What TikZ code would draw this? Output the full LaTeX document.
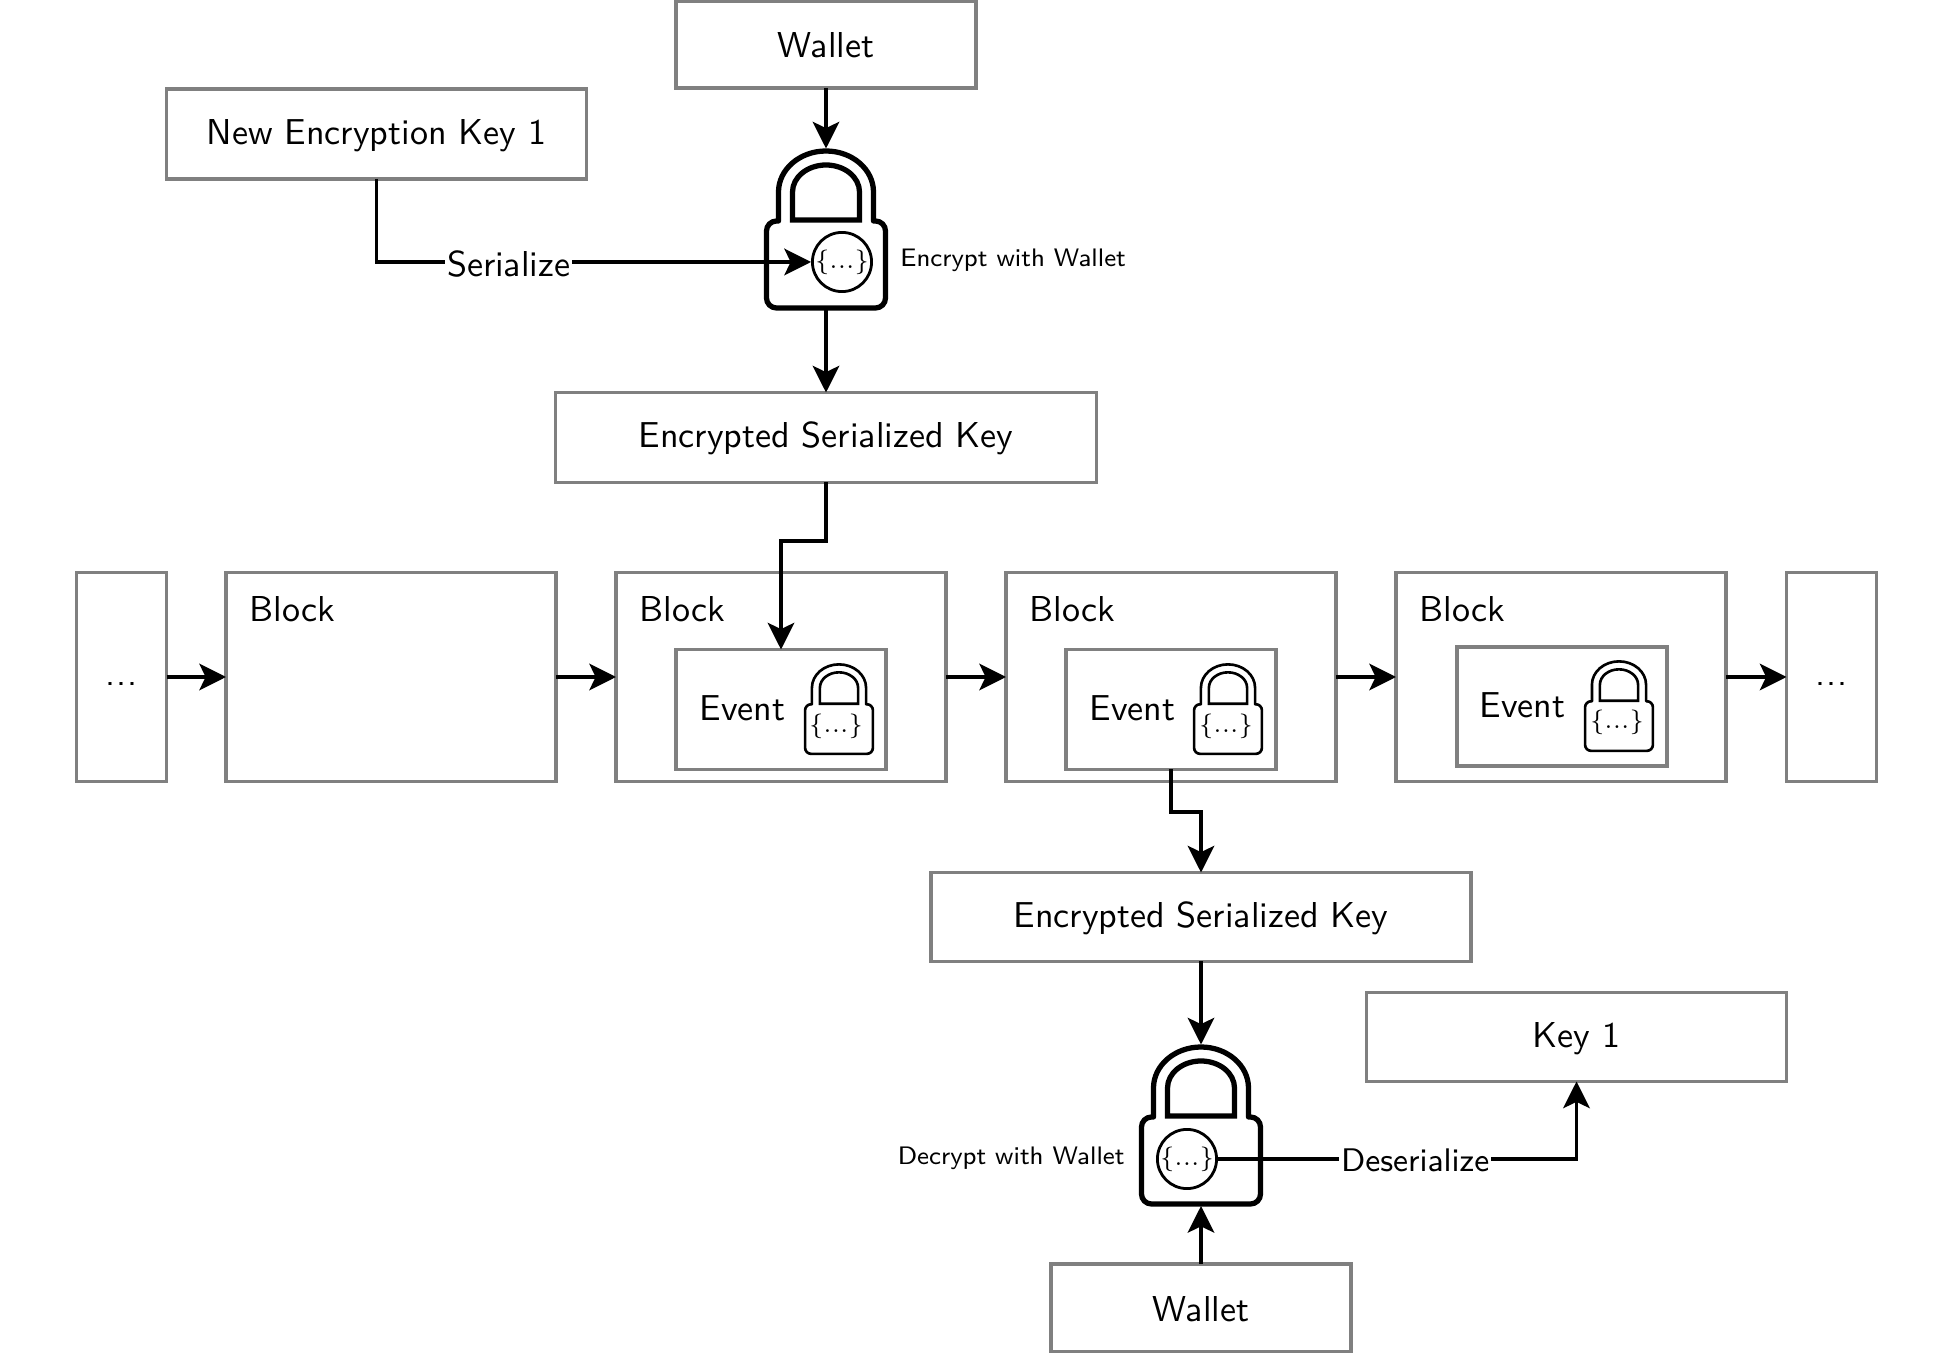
\documentclass[tikz,border=0pt]{standalone}
\usepackage{amsmath}
\usetikzlibrary{arrows.meta}
\renewcommand{\familydefault}{\sfdefault}
\tikzset{
  every node/.style={font=\fontsize{10.25}{12}\selectfont},
  smalltext/.style={font=\fontsize{7.2}{9}\selectfont},
  graybox/.style={draw=gray,line width=.9pt,fill=white,inner sep=0pt,outer sep=0pt,text height=8pt,text depth=2.2pt},
  flatbox/.style={graybox,text depth=.6pt},
  link/.style={draw=black,line width=.9pt},
  bendlabel/.style={fill=white,inner sep=.5pt},
  datacircle/.style={circle,draw=black,line width=.8pt,fill=white,minimum size=5.9mm,inner sep=0pt},
  pics/lockicon/.style={code={
    \draw[line join=round] (-.475,.89) {[rounded corners=#1] -- (-.595,.89) -- (-.595,.02) -- (.595,.02) -- (.595,.89)} -- (.475,.89) -- (.475,1.18)
      arc[start angle=0,end angle=180,x radius=.475,y radius=.41] -- cycle;
    \draw (-.335,.90) -- (-.335,1.18) arc[start angle=180,end angle=0,x radius=.335,y radius=.27] -- (.335,.90) -- cycle;
    \coordinate (-top) at (0,1.615);
    \coordinate (-bottom) at (0,0);
  }}
}
\newcommand{\curly}{\scriptsize$\{...\}$}
\newcommand{\skipdots}{\raisebox{1.3pt}{.\kern.3pt.\kern.3pt.}}
\begin{document}
\begin{tikzpicture}[>={Stealth[length=7.6pt,width=7.6pt,inset=1.8pt]}]
\useasboundingbox (0,0) rectangle (19.53,13.53);
% upper part: the key is written
\node[flatbox,minimum width=3cm,minimum height=.87cm] (walletA) at (8.26,13.085) {Wallet};
\node[graybox,minimum width=4.2cm,minimum height=.9cm] (newkey) at (3.765,12.19) {New Encryption Key 1};
\pic[line width=1.5pt] (lockA) at (8.26,10.43) {lockicon=1mm};
\node[datacircle] (dataA) at (8.42,10.91) {\curly};
\node[anchor=west,smalltext] (encrypt) at (8.88,10.925) {Encrypt with Wallet};
\node[graybox,minimum width=5.41cm,minimum height=.9cm] (enckeyA) at (8.26,9.155) {Encrypted Serialized Key};
% chain of blocks
\node[flatbox,minimum width=.9cm,minimum height=2.09cm] (dotsL) at (1.215,6.76) {\skipdots};
\node[graybox,minimum width=3.3cm,minimum height=2.09cm] (blockA) at (3.91,6.76) {};
\node[graybox,minimum width=3.3cm,minimum height=2.09cm] (blockB) at (7.81,6.76) {};
\node[graybox,minimum width=3.3cm,minimum height=2.09cm] (blockC) at (11.71,6.76) {};
\node[graybox,minimum width=3.3cm,minimum height=2.09cm] (blockD) at (15.61,6.76) {};
\node[flatbox,minimum width=.9cm,minimum height=2.09cm] (dotsR) at (18.315,6.76) {\skipdots};
\node[anchor=west,inner sep=0pt] (titleA) at (2.49,7.44) {Block};
\node[anchor=west,inner sep=0pt] (titleB) at (6.39,7.44) {Block};
\node[anchor=west,inner sep=0pt] (titleC) at (10.29,7.44) {Block};
\node[anchor=west,inner sep=0pt] (titleD) at (14.19,7.44) {Block};
% events inside the blocks
\node[graybox,minimum width=2.1cm,minimum height=1.2cm] (eventA) at (7.81,6.435) {};
\node[graybox,minimum width=2.1cm,minimum height=1.2cm] (eventB) at (11.71,6.435) {};
\node[graybox,minimum width=2.1cm,minimum height=1.19cm] (eventC) at (15.62,6.465) {};
\node[anchor=west,inner sep=0pt] (nameA) at (6.99,6.445) {Event};
\node[anchor=west,inner sep=0pt] (nameB) at (10.89,6.445) {Event};
\node[anchor=west,inner sep=0pt] (nameC) at (14.79,6.475) {Event};
\pic[scale=.57,line width=.75pt] (lockC) at (8.39,5.98) {lockicon=.6mm};
\pic[scale=.57,line width=.75pt] (lockD) at (12.28,5.98) {lockicon=.6mm};
\pic[scale=.57,line width=.75pt] (lockE) at (16.19,6.01) {lockicon=.6mm};
\node (curlyC) at (8.36,6.27) {\curly};
\node (curlyD) at (12.26,6.27) {\curly};
\node (curlyE) at (16.17,6.31) {\curly};
% lower part: the key is read back
\node[graybox,minimum width=5.4cm,minimum height=.89cm] (enckeyB) at (12.01,4.36) {Encrypted Serialized Key};
\node[graybox,minimum width=4.2cm,minimum height=.89cm] (keyone) at (15.765,3.16) {Key 1};
\pic[line width=1.5pt] (lockB) at (12.01,1.47) {lockicon=1mm};
\node[datacircle] (dataB) at (11.87,1.94) {\curly};
\node[anchor=east,smalltext] (decrypt) at (11.37,1.945) {Decrypt with Wallet};
\node[flatbox,minimum width=3cm,minimum height=.88cm] (walletB) at (12.01,.45) {Wallet};
\coordinate (bendA) at (7.81,8.12);
\coordinate (bendB) at (12.01,5.41);
% connectors
\draw[link,->] (walletA.south) -- (lockA-top);
\draw[link,->] (newkey.south) |- (dataA) node[bendlabel,pos=.652,yshift=-.7pt] (serialize) {Serialize};
\draw[link,->] (lockA-bottom) -- (enckeyA.north);
\draw[link,->] (enckeyA.south) |- (bendA) -- (eventA.north);
\draw[link,->] (dotsL) -- (blockA);
\draw[link,->] (blockA) -- (blockB);
\draw[link,->] (blockB) -- (blockC);
\draw[link,->] (blockC) -- (blockD);
\draw[link,->] (blockD) -- (dotsR);
\draw[link,->] (eventB.south) |- (bendB) -- (enckeyB.north);
\draw[link,->] (enckeyB.south) -- (lockB-top);
\draw[link,->] (walletB.north) -- (lockB-bottom);
\draw[link,->] (dataB) -| (keyone.south) node[bendlabel,pos=.275,yshift=-.3pt,font=\fontsize{9.3}{12}\selectfont] (deserialize) {Deserialize};
\end{tikzpicture}
\end{document}
